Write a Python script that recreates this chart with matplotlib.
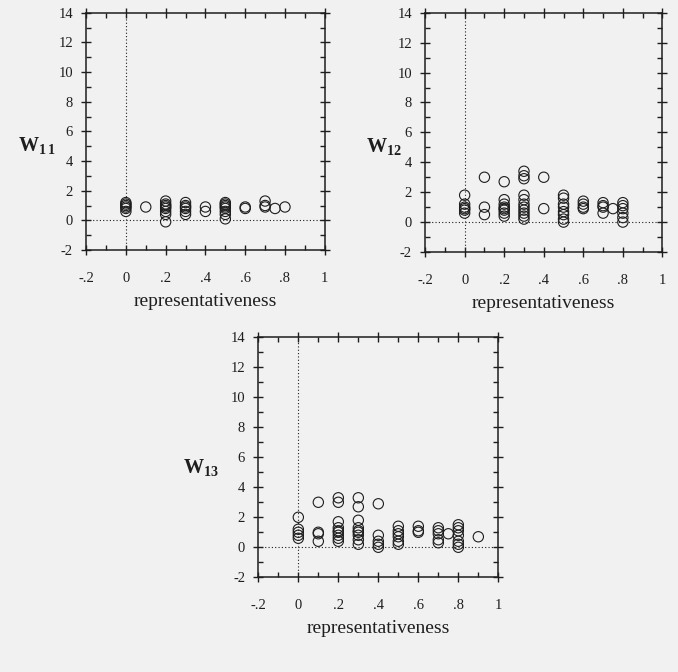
import matplotlib.pyplot as plt
from matplotlib.ticker import MultipleLocator, FuncFormatter

plt.rcParams['font.family'] = ['Liberation Serif', 'DejaVu Serif']
plt.rcParams['mathtext.fontset'] = 'custom'
plt.rcParams['mathtext.rm'] = 'Liberation Serif'
plt.rcParams['axes.unicode_minus'] = False

# W11 vs representativeness
w11_x = [0, 0, 0, 0, 0, 0,
         0.1,
         0.2, 0.2, 0.2, 0.2, 0.2, 0.2, 0.2, 0.2,
         0.3, 0.3, 0.3, 0.3, 0.3, 0.3,
         0.4, 0.4,
         0.5, 0.5, 0.5, 0.5, 0.5, 0.5, 0.5, 0.5,
         0.6, 0.6,
         0.7, 0.7, 0.7,
         0.75, 0.8]
w11_y = [1.2, 1.1, 1.0, 0.9, 0.8, 0.6,
         0.9,
         1.3, 1.1, 1.0, 0.9, 0.8, 0.6, 0.4, -0.1,
         1.2, 1.0, 0.9, 0.8, 0.6, 0.4,
         0.9, 0.6,
         1.2, 1.1, 1.0, 0.9, 0.8, 0.6, 0.4, 0.1,
         0.9, 0.8,
         1.3, 1.0, 0.9,
         0.8, 0.9]

# W12 vs representativeness
w12_x = [0, 0, 0, 0, 0, 0,
         0.1, 0.1, 0.1,
         0.2, 0.2, 0.2, 0.2, 0.2, 0.2, 0.2, 0.2,
         0.3, 0.3, 0.3, 0.3, 0.3, 0.3, 0.3, 0.3, 0.3, 0.3, 0.3,
         0.4, 0.4,
         0.5, 0.5, 0.5, 0.5, 0.5, 0.5, 0.5, 0.5,
         0.6, 0.6, 0.6, 0.6,
         0.7, 0.7, 0.7, 0.7,
         0.75,
         0.8, 0.8, 0.8, 0.8, 0.8, 0.8]
w12_y = [1.8, 1.2, 1.0, 0.9, 0.8, 0.6,
         3.0, 1.0, 0.5,
         2.7, 1.5, 1.2, 1.0, 0.9, 0.8, 0.6, 0.4,
         3.4, 3.1, 2.9, 1.8, 1.5, 1.2, 1.0, 0.8, 0.6, 0.4, 0.2,
         3.0, 0.9,
         1.8, 1.6, 1.2, 1.0, 0.7, 0.5, 0.2, 0.0,
         1.4, 1.2, 1.0, 0.9,
         1.3, 1.1, 1.0, 0.6,
         0.9,
         1.3, 1.1, 0.9, 0.6, 0.3, 0.0]

# W13 vs representativeness
w13_x = [0, 0, 0, 0, 0,
         0.1, 0.1, 0.1, 0.1,
         0.2, 0.2, 0.2, 0.2, 0.2, 0.2, 0.2, 0.2, 0.2,
         0.3, 0.3, 0.3, 0.3, 0.3, 0.3, 0.3, 0.3, 0.3,
         0.4, 0.4, 0.4, 0.4, 0.4,
         0.5, 0.5, 0.5, 0.5, 0.5, 0.5,
         0.6, 0.6, 0.6,
         0.7, 0.7, 0.7, 0.7, 0.7,
         0.75,
         0.8, 0.8, 0.8, 0.8, 0.8, 0.8, 0.8,
         0.9]
w13_y = [2.0, 1.2, 1.0, 0.8, 0.6,
         3.0, 1.0, 0.9, 0.4,
         3.3, 3.0, 1.7, 1.3, 1.1, 1.0, 0.8, 0.6, 0.4,
         3.3, 2.7, 1.8, 1.3, 1.1, 1.0, 0.8, 0.5, 0.2,
         2.9, 0.8, 0.4, 0.2, 0.0,
         1.4, 1.1, 0.9, 0.7, 0.4, 0.2,
         1.4, 1.1, 1.0,
         1.3, 1.1, 0.9, 0.5, 0.3,
         0.9,
         1.5, 1.3, 1.1, 0.8, 0.4, 0.2, 0.0,
         0.7]

panels = [
    (w11_x, w11_y, "1\\,1", [0.127, 0.628, 0.352, 0.353], (0.055, 0.782)),
    (w12_x, w12_y, "12", [0.627, 0.625, 0.350, 0.356], (0.566, 0.780)),
    (w13_x, w13_y, "13", [0.381, 0.141, 0.354, 0.357], (0.296, 0.303)),
]

bg = "#f1f1f1"
ink = "#1e1e1e"


def frac_label(v, pos):
    if abs(v) < 1e-9:
        return "0"
    if abs(v - 1) < 1e-9:
        return "1"
    s = "%.1f" % v
    return s.replace("0.", ".")


fig = plt.figure(figsize=(6.78, 6.72), dpi=100, facecolor=bg)

for xs, ys, sub, rect, lab_pos in panels:
    ax = fig.add_axes(rect, facecolor=bg)
    ax.set_xlim(-0.2, 1.0)
    ax.set_ylim(-2, 14)
    ax.axvline(0, color=ink, lw=0.8, ls=(0, (1, 2)), zorder=1)
    ax.axhline(0, color=ink, lw=0.8, ls=(0, (1, 2)), zorder=1)
    ax.scatter(xs, ys, s=55, facecolors="none", edgecolors=ink,
               linewidths=0.8, zorder=3)

    ax.xaxis.set_major_locator(MultipleLocator(0.2))
    ax.xaxis.set_minor_locator(MultipleLocator(0.1))
    ax.yaxis.set_major_locator(MultipleLocator(2))
    ax.yaxis.set_minor_locator(MultipleLocator(1))
    ax.xaxis.set_major_formatter(FuncFormatter(frac_label))
    ax.tick_params(which="major", direction="inout", length=7, width=1,
                   top=True, right=True, colors=ink, labelsize=10.5)
    ax.tick_params(which="minor", direction="in", length=3.5, width=1,
                   top=True, right=True, colors=ink)
    ax.tick_params(axis="x", which="major", pad=12)
    ax.tick_params(axis="y", which="major", pad=6)
    for sp in ax.spines.values():
        sp.set_color(ink)
        sp.set_linewidth(1.1)

    ax.set_xlabel("representativeness", fontsize=14, color=ink, labelpad=6)
    fig.text(lab_pos[0], lab_pos[1], r"W$_{\mathregular{%s}}$" % sub,
             fontsize=14.5, color=ink, ha="center", va="center",
             fontweight="bold")

fig.savefig("out.png", dpi=100, facecolor=bg)
